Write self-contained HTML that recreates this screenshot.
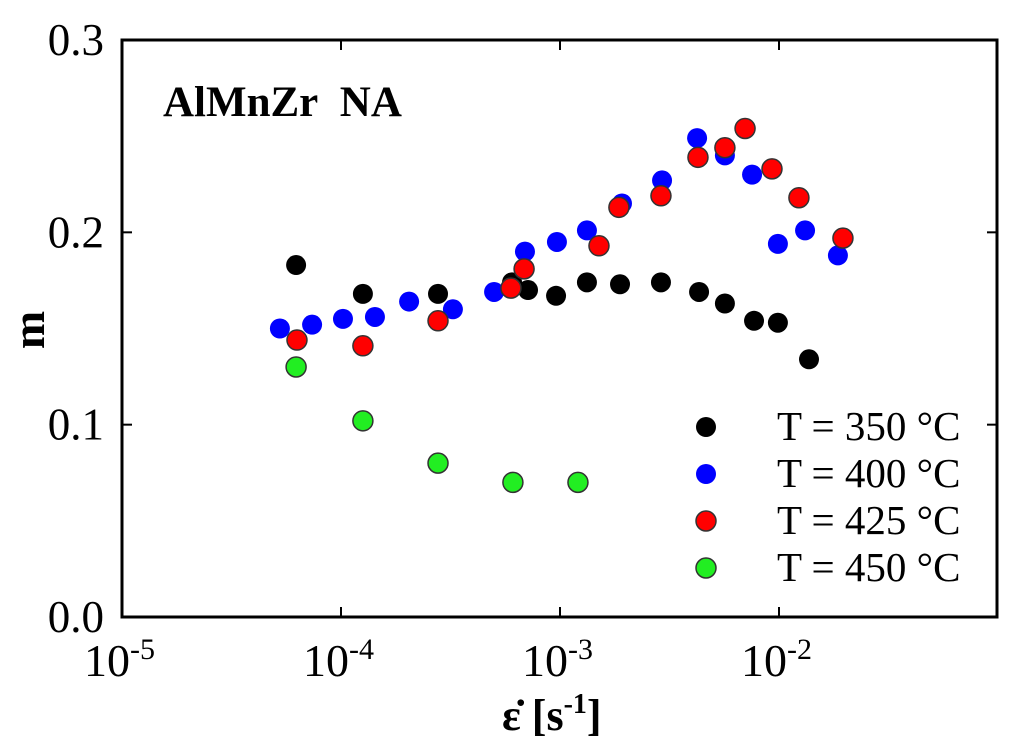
<!DOCTYPE html>
<html><head><meta charset="utf-8"><style>
body{margin:0;background:#fff}
svg{display:block;font-family:"Liberation Serif",serif}
</style></head><body>
<svg id="chart" width="1024" height="750">
<g id="ticks"></g><g id="marks"></g>
</svg>
<script>
const xTickExps=[-5,-4,-3,-2];
const yTicks=[0.0,0.1,0.2,0.3];
const seriesNames=["T = 350 °C","T = 400 °C","T = 425 °C","T = 450 °C"];
const seriesColors=["#000000","#0000ff","#ff0000","#22ee22"];
const logX350=[-4.205,-3.9,-3.557,-3.219,-3.146,-3.018,-2.877,-2.726,-2.539,-2.365,-2.247,-2.114,-2.005,-1.863];
const m350=[.183,.168,.168,.174,.170,.167,.174,.173,.174,.169,.163,.154,.153,.134];
const logX400=[-4.279,-4.132,-3.991,-3.845,-3.689,-3.489,-3.301,-3.160,-3.014,-2.877,-2.717,-2.534,-2.374,-2.247,-2.123,-2.005,-1.881,-1.731];
const m400=[.150,.152,.155,.156,.164,.160,.169,.190,.195,.201,.215,.227,.249,.240,.230,.194,.201,.188];
const logX425=[-4.201,-3.9,-3.557,-3.224,-3.164,-2.822,-2.731,-2.539,-2.370,-2.247,-2.155,-2.032,-1.909,-1.708];
const m425=[.144,.141,.154,.171,.181,.193,.213,.219,.239,.244,.254,.233,.218,.197];
const logX450=[-4.205,-3.9,-3.557,-3.215,-2.918];
const m450=[.130,.102,.080,.070,.070];

const NS="http://www.w3.org/2000/svg";
const L=122,R=997,T=40,B=617,DEC=219;
const xs=lx=>L+(lx+5)*DEC;
const ys=m=>B-(m/0.3)*(B-T);
const tg=document.getElementById('ticks'), mg=document.getElementById('marks');
function mk(tag,attrs,parent,text){const e=document.createElementNS(NS,tag);for(const k in attrs)e.setAttribute(k,attrs[k]);if(text!==undefined)e.textContent=text;parent.appendChild(e);return e;}

const frame=mk('rect',{x:L,y:T,width:R-L,height:B-T,fill:'none',stroke:'#000','stroke-width':3},tg);



xTickExps.forEach(e=>{
  const x=xs(e);
  if(e>-5){mk('line',{x1:x,y1:B,x2:x,y2:B-10,stroke:'#000','stroke-width':2},tg);mk('line',{x1:x,y1:T,x2:x,y2:T+10,stroke:'#000','stroke-width':2},tg);}
  const t=mk('text',{x:x+33,y:676,'font-size':46,'text-anchor':'end'},tg);
  
  
  t.textContent='10';
  mk('tspan',{dy:-17,'font-size':30},t,String(e));
});
yTicks.forEach(v=>{
  const y=ys(v);
  mk('line',{x1:L,y1:y,x2:L+10,y2:y,stroke:'#000','stroke-width':2},tg);
  mk('line',{x1:R,y1:y,x2:R-10,y2:y,stroke:'#000','stroke-width':2},tg);
  const t=mk('text',{x:104,y:y+15,'font-size':45,'text-anchor':'end'},tg,v.toFixed(1));
  
  
});

const xs_=[logX350,logX400,logX425,logX450], ms_=[m350,m400,m425,m450];
[0,1,2,3].forEach(si=>{
  const g=mk('g',{},mg);
  
  
  xs_[si].forEach((lx,i)=>{
    const c=mk('circle',{cx:xs(lx),cy:ys(ms_[si][i]),r:10,fill:seriesColors[si],stroke:si>=2?'#333':'none','stroke-width':1.5},g);
    
    
  });
  const ly=427+si*47;
  const lc=mk('circle',{cx:706,cy:ly,r:10,fill:seriesColors[si],stroke:si>=2?'#333':'none','stroke-width':1.5},g);
  
  
  const lt=mk('text',{x:777,y:ly+13,'font-size':41},g,seriesNames[si]);
  
  
});
</script>
<svg style="position:absolute;left:0;top:0" width="1024" height="750">
<text x="163" y="116" font-family="Liberation Serif,serif" font-weight="bold" font-size="43">AlMnZr&#160;&#160;NA</text>
<text transform="translate(44,330) rotate(-90)" text-anchor="middle" font-family="Liberation Serif,serif" font-weight="bold" font-size="46">m</text>
<text x="502" y="730" font-family="Liberation Serif,serif" font-weight="bold" font-size="44">ε̇ [s<tspan dy="-17" font-size="28">-1</tspan><tspan dy="17">]</tspan></text>
</svg>
</body></html>
